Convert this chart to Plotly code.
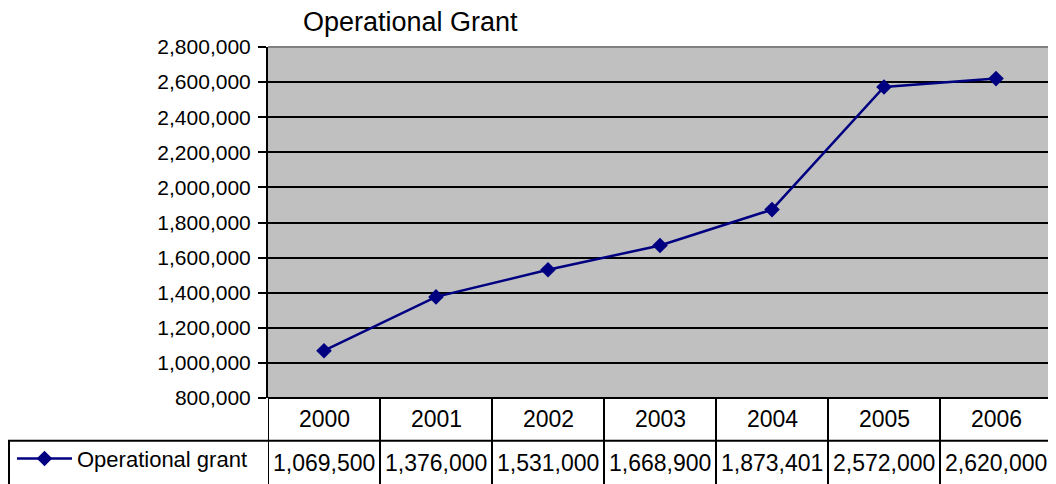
import plotly.graph_objects as go

# ---- data ----
years = ["2000", "2001", "2002", "2003", "2004", "2005", "2006"]
grant = [1069500, 1376000, 1531000, 1668900, 1873401, 2572000, 2620000]
series_name = "Operational grant"
chart_title = "Operational Grant"
y_min, y_max, y_step = 800000, 2800000, 200000

# ---- geometry ----
# The page body has an 8px margin, so the figure is drawn 8px in from the window edge.
OFF = 8
W, H = 1056 - OFF, 484 - OFF
PL, PR, PT, PB = 268, 1052, 47, 400          # plot area in window pixels
L, R, T, B = PL - OFF, W - (PR - OFF), PT - OFF, H - (PB - OFF)
PW, PH = W - L - R, H - T - B
FONT = "Liberation Sans, Arial, sans-serif"
NAVY = "#000080"


def px_x(p):
    """window pixel column -> paper x"""
    return (p - OFF - L) / PW


def px_y(p):
    """window pixel row -> paper y"""
    return (H - B - (p - OFF)) / PH


fig = go.Figure()
fig.add_trace(go.Scatter(
    x=years, y=grant, name=series_name, mode="lines+markers",
    line=dict(color=NAVY, width=2.5),
    marker=dict(symbol="diamond", size=12, color=NAVY),
    showlegend=True, hoverinfo="x+y",
))

shapes = []
black = dict(color="black", width=2)
# plot border: gray top/right
shapes.append(dict(type="line", xref="paper", yref="paper", x0=0, x1=1, y0=1, y1=1,
                   line=dict(color="#808080", width=2)))
shapes.append(dict(type="line", xref="paper", yref="paper", x0=1, x1=1, y0=0, y1=1,
                   line=dict(color="#808080", width=2)))
# data table grid
shapes.append(dict(type="line", xref="paper", yref="paper", x0=0, x1=1, y0=0, y1=0, line=black))
shapes.append(dict(type="line", xref="paper", yref="paper", x0=px_x(8), x1=1,
                   y0=px_y(443), y1=px_y(443), line=black))
shapes.append(dict(type="line", xref="paper", yref="paper", x0=px_x(9), x1=px_x(9),
                   y0=px_y(443), y1=px_y(500), line=black))
for i in range(len(years) + 1):
    shapes.append(dict(type="line", xref="x", yref="paper", x0=i - 0.5, x1=i - 0.5,
                       y0=px_y(500), y1=0, line=black))

annotations = []
for i, (yr, v) in enumerate(zip(years, grant)):
    annotations.append(dict(x=i, xref="x", y=px_y(421), yref="paper", text=yr,
                            showarrow=False, xanchor="center", yanchor="middle",
                            font=dict(family=FONT, size=23, color="black")))
    annotations.append(dict(x=i, xref="x", y=px_y(465), yref="paper", text=f"{v:,}",
                            showarrow=False, xanchor="center", yanchor="middle",
                            font=dict(family=FONT, size=23, color="black")))

fig.update_layout(
    width=W, height=H,
    margin=dict(l=L, r=R, t=T, b=B, pad=0),
    paper_bgcolor="white", plot_bgcolor="#C0C0C0",
    font=dict(family=FONT, color="black"),
    title=dict(text=chart_title, x=(303 - OFF) / W, xanchor="left", xref="container",
               y=1 - (22 - OFF) / H, yanchor="middle",
               font=dict(family=FONT, size=27, color="black")),
    xaxis=dict(type="category", range=[-0.5, len(years) - 0.5], showticklabels=False,
               showgrid=False, zeroline=False, showline=False, ticks=""),
    yaxis=dict(range=[y_min, y_max], dtick=y_step, tick0=y_min, tickformat=",d",
               showgrid=True, gridcolor="black", gridwidth=2, zeroline=False,
               showline=True, linecolor="black", linewidth=2,
               ticks="outside", ticklen=8, tickwidth=2, tickcolor="black",
               ticklabelstandoff=3,
               tickfont=dict(family=FONT, size=21, color="black")),
    legend=dict(x=px_x(12), xanchor="left", y=px_y(461), yanchor="middle",
                bgcolor="rgba(0,0,0,0)", borderwidth=0, itemwidth=55,
                font=dict(family=FONT, size=22, color="black")),
    shapes=shapes, annotations=annotations,
)

fig.write_html("out.html")
